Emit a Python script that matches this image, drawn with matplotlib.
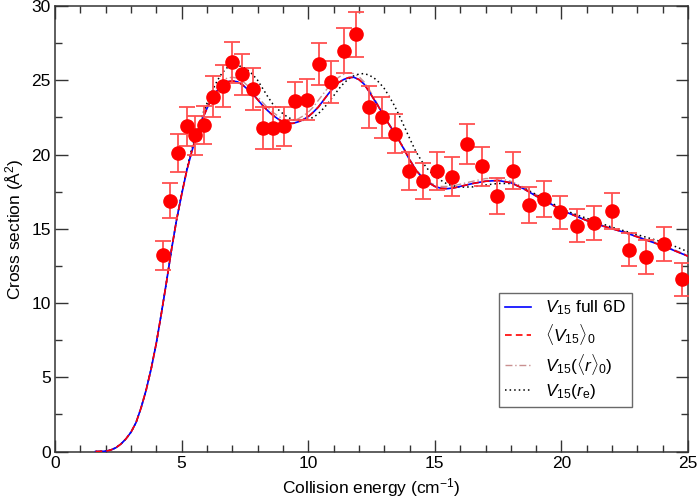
import matplotlib
matplotlib.use("Agg")
import matplotlib.pyplot as plt
from matplotlib.ticker import MultipleLocator

plt.rcParams['font.family'] = ['Liberation Sans', 'DejaVu Sans']
plt.rcParams['mathtext.fontset'] = 'custom'
plt.rcParams['mathtext.rm'] = 'Liberation Sans'
plt.rcParams['mathtext.it'] = 'Liberation Sans:italic'
plt.rcParams['mathtext.bf'] = 'Liberation Sans:bold'

# Experimental points
exp_energy = [4.25, 4.56, 4.87, 5.20, 5.54, 5.88, 6.23, 6.63, 7.00, 7.39,
              7.81, 8.20, 8.61, 9.03, 9.49, 9.97, 10.43, 10.89, 11.41, 11.89,
              12.40, 12.91, 13.43, 13.99, 14.53, 15.09, 15.68, 16.26, 16.86, 17.45,
              18.07, 18.70, 19.32, 19.95, 20.63, 21.30, 21.98, 22.67, 23.35, 24.03,
              24.76]
exp_sigma = [13.2, 16.9, 20.1, 21.9, 21.3, 22.0, 23.9, 24.6, 26.2, 25.4,
             24.4, 21.8, 21.8, 21.9, 23.6, 23.7, 26.1, 24.9, 27.0, 28.1,
             23.2, 22.5, 21.4, 18.9, 18.2, 18.9, 18.5, 20.7, 19.2, 17.2,
             18.9, 16.6, 17.0, 16.1, 15.2, 15.4, 16.2, 13.6, 13.1, 14.0,
             11.6]
exp_err = [1.0, 1.2, 1.3, 1.3, 1.3, 1.3, 1.4, 1.4, 1.4, 1.4,
           1.4, 1.4, 1.4, 1.3, 1.3, 1.4, 1.4, 1.4, 1.5, 1.5,
           1.4, 1.4, 1.3, 1.3, 1.2, 1.3, 1.3, 1.35, 1.3, 1.2,
           1.25, 1.2, 1.2, 1.1, 1.1, 1.15, 1.2, 1.1, 1.15, 1.15,
           1.1]

# Theory curves
e_grid = [1.6, 2.0, 2.2, 2.4, 2.6, 2.8, 3.0, 3.2, 3.4, 3.6, 3.8, 4.0, 4.2, 4.4, 4.6,
          4.8, 5.0, 5.2, 5.4, 5.6, 5.8, 6.0, 6.2, 6.4, 6.6, 6.8, 7.0, 7.2, 7.4, 7.6,
          7.8, 8.0, 8.2, 8.4, 8.6, 8.8, 9.0, 9.2, 9.4, 9.6, 9.8, 10.0, 10.2, 10.4, 10.6,
          10.8, 11.0, 11.2, 11.4, 11.6, 11.8, 12.0, 12.2, 12.4, 12.6, 12.8, 13.0, 13.2, 13.4, 13.6,
          13.8, 14.0, 14.25, 14.5, 14.75, 15.0, 15.25, 15.5, 15.75, 16.0, 16.5, 17.0, 17.5, 18.0, 18.5,
          19.0, 19.5, 20.0, 20.5, 21.0, 21.5, 22.0, 22.5, 23.0, 23.5, 24.0, 24.5, 25.0]

full_6d = [0.0, 0.02, 0.1, 0.25, 0.5, 0.85, 1.3, 1.95, 2.95, 4.15, 5.6, 7.3, 9.3, 11.4, 13.6,
           15.6, 17.3, 18.9, 20.2, 21.3, 22.3, 23.1, 23.8, 24.3, 24.7, 24.9, 24.95, 24.9, 24.7, 24.4,
           24.1, 23.7, 23.3, 22.95, 22.65, 22.4, 22.2, 22.1, 22.1, 22.2, 22.35, 22.55, 22.85, 23.2, 23.65,
           24.1, 24.5, 24.85, 25.05, 25.18, 25.2, 25.05, 24.75, 24.25, 23.7, 23.15, 22.55, 22.0, 21.45, 20.9,
           20.3, 19.65, 18.95, 18.45, 18.1, 17.85, 17.72, 17.7, 17.75, 17.85, 18.05, 18.2, 18.25, 18.1, 17.7,
           17.2, 16.75, 16.25, 15.9, 15.55, 15.25, 15.0, 14.75, 14.45, 14.15, 13.85, 13.5, 13.15]

avg_v = [0.0, 0.02, 0.1, 0.25, 0.5, 0.85, 1.3, 1.95, 2.95, 4.15, 5.6, 7.3, 9.3, 11.4, 13.6,
         15.6, 17.3, 18.9, 20.2, 21.3, 22.3, 23.1, 23.8, 24.3, 24.7, 24.9, 24.95, 24.9, 24.7, 24.4,
         24.1, 23.7, 23.3, 22.95, 22.65, 22.4, 22.2, 22.1, 22.1, 22.2, 22.35, 22.55, 22.85, 23.2, 23.65,
         24.1, 24.5, 24.85, 25.05, 25.18, 25.2, 25.05, 24.75, 24.25, 23.7, 23.15, 22.55, 22.0, 21.45, 20.9,
         20.3, 19.65, 18.95, 18.45, 18.1, 17.85, 17.72, 17.7, 17.75, 17.85, 18.05, 18.2, 18.25, 18.1, 17.7,
         17.2, 16.75, 16.25, 15.9, 15.55, 15.25, 15.0, 14.75, 14.45, 14.15, 13.85, 13.5, 13.15]

avg_r = [0.0, 0.02, 0.1, 0.25, 0.5, 0.85, 1.3, 1.95, 2.95, 4.15, 5.6, 7.3, 9.3, 11.4, 13.6,
         15.6, 17.35, 18.95, 20.3, 21.45, 22.45, 23.3, 24.0, 24.55, 24.95, 25.15, 25.2, 25.15, 24.95, 24.65,
         24.3, 23.9, 23.5, 23.15, 22.85, 22.6, 22.4, 22.3, 22.3, 22.4, 22.6, 22.85, 23.2, 23.65, 24.1,
         24.55, 24.9, 25.2, 25.4, 25.5, 25.45, 25.25, 24.9, 24.4, 23.8, 23.2, 22.6, 22.05, 21.5, 20.95,
         20.35, 19.7, 19.0, 18.5, 18.15, 17.95, 17.85, 17.85, 17.9, 18.0, 18.2, 18.38, 18.4, 18.2, 17.8,
         17.3, 16.8, 16.3, 15.95, 15.6, 15.3, 15.05, 14.8, 14.5, 14.2, 13.9, 13.55, 13.2]

r_eq = [0.0, 0.02, 0.1, 0.25, 0.5, 0.85, 1.3, 1.95, 2.95, 4.15, 5.6, 7.3, 9.3, 11.4, 13.6,
        15.6, 17.35, 19.0, 20.4, 21.6, 22.6, 23.45, 24.25, 24.95, 25.5, 25.85, 26.0, 26.0, 25.9, 25.7,
        25.4, 25.0, 24.45, 23.9, 23.4, 23.05, 22.75, 22.5, 22.35, 22.3, 22.3, 22.4, 22.5, 22.75, 23.1,
        23.5, 23.95, 24.4, 24.8, 25.1, 25.3, 25.42, 25.45, 25.35, 25.15, 24.85, 24.45, 23.9, 23.3, 22.6,
        21.85, 21.1, 20.2, 19.5, 18.95, 18.55, 18.25, 18.0, 17.88, 17.8, 17.82, 17.95, 18.05, 18.05, 17.75,
        17.3, 16.85, 16.35, 16.0, 15.7, 15.4, 15.1, 14.85, 14.6, 14.35, 14.1, 13.8, 13.45]

fig = plt.figure(figsize=(7.0, 5.01), dpi=100)
ax = fig.add_axes([0.0786, 0.0988, 0.9044, 0.8892])

ax.plot(e_grid, full_6d, color='blue', lw=1.2, label=r'$V_{15}$ full 6D', zorder=4)
ax.plot(e_grid, avg_v, color='red', lw=1.2, ls=(0, (4, 2.5)), label=r'$\langle V_{15}\rangle_0$', zorder=5)
ax.plot(e_grid, avg_r, color='#c99090', lw=1.0, ls=(0, (5, 2, 1, 2)),
        label=r'$V_{15}(\langle r\rangle_0)$', zorder=3)
ax.plot(e_grid, r_eq, color='black', lw=1.1, ls=(0, (1, 2)), label=r'$V_{15}(r_{\rm e})$', zorder=3)

ax.errorbar(exp_energy, exp_sigma, yerr=exp_err, fmt='o', color='red', ms=9.5,
            ecolor='#ff5050', elinewidth=1.3, capsize=6, capthick=1.3, zorder=6)

ax.set_xlim(0, 25)
ax.set_ylim(0, 30)
ax.xaxis.set_major_locator(MultipleLocator(5))
ax.xaxis.set_minor_locator(MultipleLocator(1))
ax.yaxis.set_major_locator(MultipleLocator(5))
ax.yaxis.set_minor_locator(MultipleLocator(2.5))
ax.tick_params(which='both', direction='in', top=True, right=True, color='#333333', width=1)
ax.tick_params(which='major', length=9, labelsize=12.5, pad=3)
ax.tick_params(which='minor', length=5)
for s in ax.spines.values():
    s.set_color('#333333')
    s.set_linewidth(1.1)

ax.set_xlabel('Collision energy (cm$^{-1}$)', fontsize=12.5, labelpad=4)
ax.set_ylabel('Cross section (Å$^2$)', fontsize=12.5, labelpad=4)

leg = ax.legend(loc='lower right', bbox_to_anchor=(0.9115, 0.1), borderaxespad=0,
                fontsize=12.5, frameon=True, fancybox=False, edgecolor='#444444',
                handlelength=1.45, handletextpad=0.85, labelspacing=0.28, borderpad=0.35)
leg.get_frame().set_linewidth(1.0)

fig.savefig('out.png', dpi=100)
